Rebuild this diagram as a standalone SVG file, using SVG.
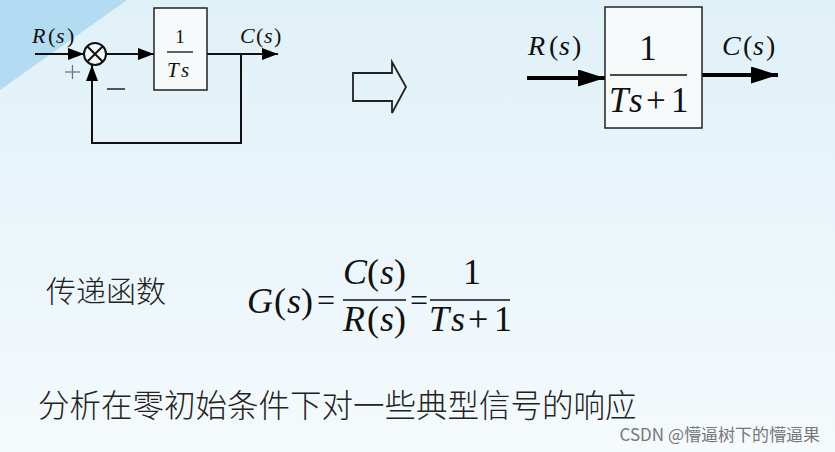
<svg xmlns="http://www.w3.org/2000/svg" width="835" height="452" viewBox="0 0 835 452">
<defs>
<linearGradient id="bg" x1="0" y1="0" x2="0" y2="1">
<stop offset="0" stop-color="#e0f1f7"/>
<stop offset="0.45" stop-color="#e9f5fa"/>
<stop offset="1" stop-color="#f5fafc"/>
</linearGradient>
<marker id="ah" markerWidth="16" markerHeight="12" refX="16" refY="6" orient="auto" markerUnits="userSpaceOnUse">
<path d="M0,0 L16,6 L0,12 Z" fill="#000"/>
</marker>
<marker id="ahL" markerWidth="27" markerHeight="17" refX="27" refY="8.5" orient="auto" markerUnits="userSpaceOnUse">
<path d="M0,0 L27,8.5 L0,17 Z" fill="#000"/>
</marker>
</defs>
<style>
.t{font-family:"Liberation Serif","Times New Roman",serif;fill:#111}
.i{font-style:italic}
.cj{font-family:"Noto Sans CJK SC",sans-serif;font-weight:300;fill:#222}
.ln{stroke:#111;stroke-width:2;fill:none}
.bx{fill:#f6fafb;stroke:#222;stroke-width:1.5}
</style>
<rect width="835" height="452" fill="url(#bg)"/>
<polygon points="0,0 127,0 0,90" fill="#b3dbf2"/>

<g id="connectors">
<line class="ln" x1="35" y1="54" x2="84" y2="54" marker-end="url(#ah)"/>
<line class="ln" x1="106" y1="54" x2="154" y2="54" marker-end="url(#ah)"/>
<line class="ln" x1="207" y1="54" x2="278" y2="54" marker-end="url(#ah)"/>
<polyline class="ln" points="241,54 241,143 92,143 92,65" marker-end="url(#ah)"/>
<line x1="527" y1="78" x2="605" y2="78" stroke="#000" stroke-width="4" marker-end="url(#ahL)"/>
<line x1="702" y1="75" x2="778" y2="75" stroke="#000" stroke-width="4" marker-end="url(#ahL)"/>
</g>

<g id="sum">
<circle cx="95" cy="54" r="11" fill="#f6fafb" stroke="#111" stroke-width="2"/>
<line class="ln" x1="87.2" y1="46.2" x2="102.8" y2="61.8"/>
<line class="ln" x1="102.8" y1="46.2" x2="87.2" y2="61.8"/>
<line x1="65" y1="72" x2="80" y2="72" stroke="#777" stroke-width="1.3"/>
<line x1="72.5" y1="65" x2="72.5" y2="79" stroke="#777" stroke-width="1.3"/>
<line x1="107" y1="89" x2="125" y2="89" stroke="#222" stroke-width="1.5"/>
</g>

<g id="left-labels">
<text class="t" y="43" font-size="22"><tspan class="i" x="32">R</tspan><tspan x="48">(</tspan><tspan class="i" x="56">s</tspan><tspan x="67">)</tspan></text>
<text class="t" y="43" font-size="22"><tspan class="i" x="240">C</tspan><tspan x="256">(</tspan><tspan class="i" x="264">s</tspan><tspan x="274">)</tspan></text>
</g>

<g id="block-1-over-Ts">
<rect class="bx" x="154" y="8" width="53" height="82"/>
<text class="t" x="180" y="43" font-size="19" text-anchor="middle">1</text>
<line x1="167" y1="52" x2="193" y2="52" stroke="#111" stroke-width="1.3"/>
<text class="t i" y="77" font-size="21"><tspan x="167">T</tspan><tspan x="181">s</tspan></text>
</g>

<g id="hollow-arrow">
<polygon points="353,73 392,73 392,62 406,87 392,113 392,101 353,101" fill="none" stroke="#222" stroke-width="1.8"/>
</g>

<g id="right-labels">
<text class="t" y="55" font-size="28"><tspan class="i" x="528">R</tspan><tspan x="549">(</tspan><tspan class="i" x="559">s</tspan><tspan x="572">)</tspan></text>
<text class="t" y="55" font-size="28"><tspan class="i" x="722">C</tspan><tspan x="743">(</tspan><tspan class="i" x="753">s</tspan><tspan x="766">)</tspan></text>
</g>

<g id="block-1-over-Ts1">
<rect class="bx" x="605" y="7" width="97" height="121"/>
<text class="t" x="648" y="60" font-size="35" text-anchor="middle">1</text>
<line x1="610" y1="75" x2="687" y2="75" stroke="#111" stroke-width="1.6"/>
<text class="t" y="112" font-size="35"><tspan class="i" x="609">T</tspan><tspan class="i" x="629">s</tspan><tspan x="646">+</tspan><tspan x="671">1</tspan></text>
</g>

<g id="formula">
<text class="cj" x="46" y="302" font-size="30">传递函数</text>
<text class="t" y="313" font-size="36"><tspan class="i" x="247">G</tspan><tspan x="274">(</tspan><tspan class="i" x="287">s</tspan><tspan x="301">)</tspan><tspan x="317" font-size="32" dy="-2">=</tspan></text>
<text class="t" y="284" font-size="36"><tspan class="i" x="343">C</tspan><tspan x="367">(</tspan><tspan class="i" x="380">s</tspan><tspan x="394">)</tspan></text>
<line x1="343" y1="300" x2="406" y2="300" stroke="#111" stroke-width="1.6"/>
<text class="t" y="331" font-size="36"><tspan class="i" x="343">R</tspan><tspan x="367">(</tspan><tspan class="i" x="380">s</tspan><tspan x="394">)</tspan></text>
<text class="t" x="410" y="311" font-size="32">=</text>
<text class="t" x="472" y="284" font-size="36" text-anchor="middle">1</text>
<line x1="430" y1="300" x2="510" y2="300" stroke="#111" stroke-width="1.6"/>
<text class="t" y="331" font-size="36"><tspan class="i" x="429">T</tspan><tspan class="i" x="451">s</tspan><tspan x="468">+</tspan><tspan x="494">1</tspan></text>
</g>

<text class="cj" x="38" y="417" font-size="31.5">分析在零初始条件下对一些典型信号的响应</text>
<text x="820" y="441" font-size="17" text-anchor="end" font-family="'Noto Sans CJK SC',sans-serif" fill="#777">CSDN @懵逼树下的懵逼果</text>
</svg>
